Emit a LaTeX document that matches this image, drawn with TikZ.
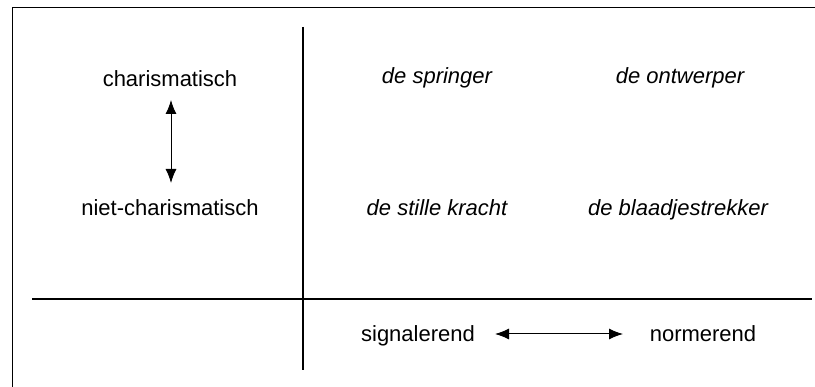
\documentclass[tikz,border=0pt]{standalone}
\usepackage{fontspec}
\setmainfont{Liberation Sans}
\usetikzlibrary{arrows.meta}
\begin{document}
\begin{tikzpicture}[x=1pt,y=-1pt,
  lbl/.style={font=\fontsize{22}{26}\selectfont, inner sep=0pt, anchor=base},
  ital/.style={lbl, font=\fontsize{22}{26}\selectfont\itshape},
  vaxis/.style={line width=2.4pt},
  haxis/.style={line width=2pt},
  frame/.style={line width=1pt},
  dbl/.style={line width=1pt, {Latex[length=14pt,width=11pt]}-{Latex[length=14pt,width=11pt]}}]
\useasboundingbox (0,0) rectangle (815,387);
% frame
\coordinate (tl) at (12,8);
\coordinate (tr) at (815,8);
\coordinate (bl) at (12,387);
\draw[frame] (bl) -- (tl) -- (tr);
% axes
\coordinate (vt) at (303,27);
\coordinate (vb) at (303,370);
\coordinate (hl) at (32,299);
\coordinate (hr) at (812,299);
\draw[vaxis] (vt) -- (vb);
\draw[haxis] (hl) -- (hr);
% labels
\node[lbl] (ch) at (170,87) {charismatisch};
\node[lbl] (nch) at (170,216) {niet-charismatisch};
\node[ital] (sp) at (437,84) {de springer};
\node[ital] (on) at (680,84) {de ontwerper};
\node[ital] (st) at (437,216) {de stille kracht};
\node[ital] (bk) at (678,216) {de blaadjestrekker};
\node[lbl] (sig) at (418,342) {signalerend};
\node[lbl] (nor) at (703,342) {normerend};
% arrows
\coordinate (a1) at (171,100);
\coordinate (a2) at (171,183);
\draw[dbl] (a1) -- (a2);
\coordinate (b1) at (495,334);
\coordinate (b2) at (623,334);
\draw[dbl] (b1) -- (b2);
\end{tikzpicture}
\end{document}
